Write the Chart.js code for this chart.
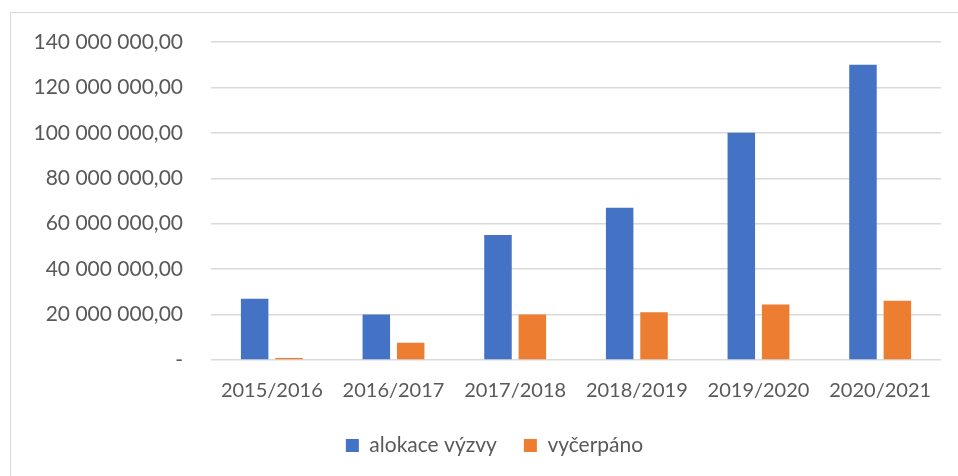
<!DOCTYPE html>
<html lang="cs">
<head>
<meta charset="utf-8">
<title>Alokace výzvy a vyčerpáno</title>
<script src="https://cdn.jsdelivr.net/npm/chart.js@4/dist/chart.umd.min.js"></script>
<style>
    html, body { margin: 0; padding: 0; background: #fff; overflow: hidden; }
    #wrap { position: relative; width: 958px; height: 476px; }
    #frame {
        position: absolute; left: 10px; top: 12px; width: 960px; height: 480px;
        border: 1.5px solid #d9d9d9; box-sizing: border-box;
    }
    #chartCanvas { position: absolute; left: 0; top: 0; }
</style>
</head>
<body>
<div id="wrap">
    <div id="frame"></div>
    <canvas id="chartCanvas" width="958" height="476"></canvas>
</div>
<script>
// chart data
const categories = ['2015/2016', '2016/2017', '2017/2018', '2018/2019', '2019/2020', '2020/2021'];
const alokaceVyzvy = [27000000, 20000000, 55000000, 67000000, 100000000, 130000000];
const vycerpano = [900000, 7600000, 20000000, 21000000, 24400000, 26100000];
const seriesNames = ['alokace výzvy', 'vyčerpáno'];
const yTicks = [0, 20000000, 40000000, 60000000, 80000000, 100000000, 120000000, 140000000];

document.addEventListener('DOMContentLoaded', function() {
    const canvas = document.getElementById('chartCanvas');
    const textColor = '#595959';
    const fontFamily = 'Lato, "Open Sans", sans-serif';

    // 140 000 000,00 style, zero shown as a dash
    function formatValue(v) {
        if (v === 0) return '-';
        const parts = v.toFixed(2).split('.');
        return parts[0].replace(/\B(?=(\d{3})+(?!\d))/g, ' ') + ',' + parts[1];
    }

    // Excel centres the legend under the whole frame, nudge it right a bit
    const legendShift = {
        id: 'legendShift',
        afterLayout: function(chart) {
            if (!chart.legend) return;
            chart.legend.left += 24;
            chart.legend.right += 24;
        }
    };

    new Chart(canvas.getContext('2d'), {
        type: 'bar',
        data: {
            labels: categories,
            datasets: [
                {
                    label: seriesNames[0],
                    data: alokaceVyzvy,
                    backgroundColor: '#4472C4'
                },
                {
                    label: seriesNames[1],
                    data: vycerpano,
                    backgroundColor: '#ED7D31'
                }
            ]
        },
        options: {
            responsive: false,
            animation: false,
            datasets: {
                bar: {
                    categoryPercentage: 0.565,
                    barPercentage: 0.8
                }
            },
            layout: {
                padding: { left: 0, top: 42, right: 17, bottom: 10 }
            },
            plugins: {
                legend: {
                    position: 'bottom',
                    labels: {
                        boxWidth: 13,
                        boxHeight: 13,
                        padding: 27,
                        color: textColor,
                        font: { family: fontFamily, size: 21 }
                    }
                },
                tooltip: { enabled: false }
            },
            scales: {
                x: {
                    grid: { display: false },
                    border: { display: false },
                    ticks: {
                        color: textColor,
                        padding: 11,
                        font: { family: fontFamily, size: 20 }
                    },
                    afterFit: function(scale) {
                        scale.height = 48;
                    }
                },
                y: {
                    min: 0,
                    max: 140000000,
                    afterBuildTicks: function(scale) {
                        scale.ticks = yTicks.map(v => ({ value: v }));
                    },
                    grid: {
                        color: '#d9d9d9',
                        lineWidth: 1.5,
                        drawTicks: false
                    },
                    border: { display: false },
                    ticks: {
                        color: textColor,
                        padding: 28,
                        font: { family: fontFamily, size: 21 },
                        callback: function(value) {
                            return formatValue(value);
                        }
                    },
                    afterFit: function(scale) {
                        scale.width = 211;
                    }
                }
            }
        },
        plugins: [legendShift]
    });
});
</script>
</body>
</html>
